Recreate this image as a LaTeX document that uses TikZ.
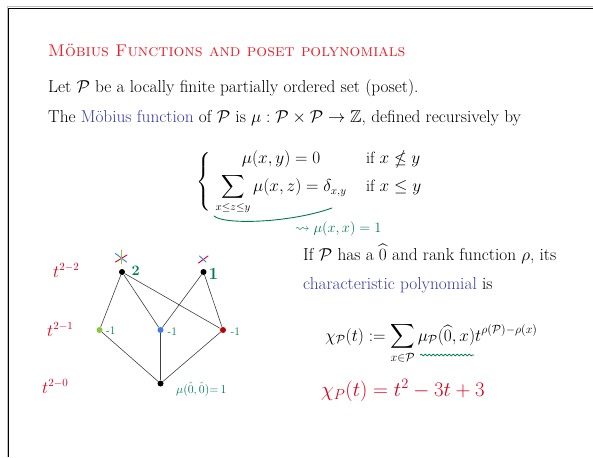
\documentclass[tikz,border=0pt]{standalone}
\usepackage{amsmath,amssymb}
\usetikzlibrary{decorations.pathmorphing}
\definecolor{titlered}{HTML}{E8202A}
\definecolor{linkblue}{HTML}{3939A8}
\definecolor{handgreen}{HTML}{007A50}
\definecolor{handred}{HTML}{D8001C}
\definecolor{nodegreen}{HTML}{8CC63F}
\definecolor{nodeblue}{HTML}{3C7BF2}
\definecolor{nodered}{HTML}{C00000}
\definecolor{crossblue}{HTML}{3C7BF2}
\begin{document}
\begin{tikzpicture}[x=1pt,y=-1pt,
  txt/.style={anchor=base west,inner sep=0pt,font=\fontsize{17.3}{20}\selectfont},
  vert/.style={circle,inner sep=0pt,minimum size=6pt,fill=#1},
  edge/.style={draw=black!75,line width=0.6pt},
  hgreen/.style={text=handgreen,inner sep=0pt,anchor=base west},
  hred/.style={text=handred,inner sep=0pt,anchor=base west},
  pen/.style={line width=0.9pt,line cap=round}]
\useasboundingbox (0,0) rectangle (593,457);
% frame
\draw[black!25,line width=1pt] (7,457) -- (7,7) -- (593,7);
\draw[black,line width=1pt] (8.5,457) -- (8.5,8.5) -- (593,8.5);
% title and text
\node[txt,text=titlered,font=\fontsize{17}{20}\selectfont] (title) at (48,57) {\textsc{Möbius Functions and poset polynomials}};
\node[txt] (l1) at (48,93) {Let $\mathcal{P}$ be a locally finite partially ordered set (poset).};
\node[txt] (l2) at (48,123) {The \textcolor{linkblue}{Möbius function} of $\mathcal{P}$ is $\mu:\mathcal{P}\times\mathcal{P}\to\mathbb{Z}$, defined recursively by};
\node[txt,anchor=west,font=\fontsize{16.3}{19}\selectfont] (cases) at (196,182) {$\left\{\begin{array}{c@{\hspace{1.2em}}l} \mu(x,y)=0 & \text{if } x\nleq y\\[5pt] \displaystyle\sum_{x\le z\le y}\mu(x,z)=\delta_{x,y} & \text{if } x\le y\end{array}\right.$};
\draw[handgreen,pen] (214,216) .. controls (224,225) and (290,223) .. (332,208);
\node[hgreen,font=\fontsize{14.5}{17}\selectfont] (mxx) at (295,232) {$\leadsto\mu(x,x)=1$};
% Hasse diagram
\node[vert=black] (tl) at (122,272) {};
\node[vert=black] (tr) at (203.5,272) {};
\node[vert=nodegreen] (ml) at (99.5,330) {};
\node[vert=nodeblue] (mc) at (160.5,330) {};
\node[vert=nodered] (mr) at (223,330) {};
\node[vert=black] (bt) at (160.5,383.5) {};
\foreach \a/\b in {tl/ml,tl/mc,tl/mr,tr/mc,tr/mr,ml/bt,mc/bt,mr/bt}
  \draw[edge] (\a) -- (\b);
% crosses
\draw[handred,pen] (115.5,262) -- (127,255);
\draw[crossblue,pen] (115.5,253.5) -- (126.5,262);
\draw[nodegreen,pen] (121.7,250) -- (121.7,264);
\draw[handred,pen] (198.5,263) -- (208,256);
\draw[crossblue,pen] (199.5,256) -- (206,262);
% hand labels
\node[hgreen,font=\Large\bfseries] (lab2) at (131.5,275) {2};
\node[hgreen,font=\fontsize{17}{20}\bfseries] (lab1) at (208.5,279) {1};
\node[hgreen,font=\fontsize{11.5}{13}\selectfont] (lml) at (106,334.5) {-1};
\node[hgreen,font=\fontsize{11.5}{13}\selectfont] (lmc) at (167.5,335) {-1};
\node[hgreen,font=\fontsize{11.5}{13}\selectfont] (lmr) at (230.5,335) {-1};
\node[hgreen,font=\fontsize{12}{14}\selectfont] (lbt) at (176,393) {$\mu(\hat 0,\hat 0){=}\,1$};
\node[hred,font=\fontsize{16}{19}\selectfont] (t2) at (53,277) {$t^{2-2}$};
\node[hred,font=\fontsize{16}{19}\selectfont] (t1) at (47,336) {$t^{2-1}$};
\node[hred,font=\fontsize{16}{19}\selectfont] (t0) at (42,393) {$t^{2-0}$};
% right column
\node[txt] (p1) at (303,260) {If $\mathcal{P}$ has a $\widehat{0}$ and rank function $\rho$, its};
\node[txt] (p2) at (303,289) {\textcolor{linkblue}{characteristic polynomial} is};
\node[txt,font=\fontsize{17}{20}\selectfont] (chi) at (325,341) {$\displaystyle\chi_{\mathcal P}(t):=\sum_{x\in\mathcal P}\mu_{\mathcal P}(\widehat{0},x)t^{\rho(\mathcal P)-\rho(x)}$};
\draw[handgreen,line width=0.8pt,decorate,decoration={snake,amplitude=0.8pt,segment length=4pt}] (420,355) -- (474,355);
\node[hred,font=\fontsize{20}{24}\selectfont] (res) at (321,396) {$\chi_{P}(t)=t^2-3t+3$};
\end{tikzpicture}
\end{document}
